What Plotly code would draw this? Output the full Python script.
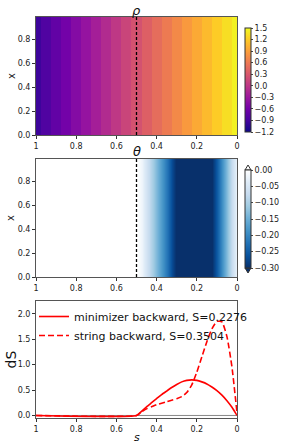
import plotly.graph_objects as go

# ---------------- data ----------------
s_rho = [1.0, 0.95, 0.9, 0.85, 0.8, 0.75, 0.7, 0.65, 0.6, 0.55, 0.5,
         0.45, 0.4, 0.35, 0.3, 0.25, 0.2, 0.15, 0.1, 0.05, 0.0]
rho_vals = [-0.95, -0.83, -0.71, -0.59, -0.47, -0.35, -0.23, -0.11, 0.01, 0.13, 0.25,
            0.37, 0.49, 0.61, 0.73, 0.85, 0.97, 1.09, 1.21, 1.33, 1.45]

s_theta = [1.0, 0.975, 0.95, 0.925, 0.9, 0.875, 0.85, 0.825, 0.8, 0.775, 0.75,
           0.725, 0.7, 0.675, 0.65, 0.625, 0.6, 0.575, 0.55, 0.525, 0.5,
           0.475, 0.45, 0.425, 0.4, 0.375, 0.35, 0.325, 0.3, 0.275, 0.25,
           0.225, 0.2, 0.175, 0.15, 0.125, 0.1, 0.075, 0.05, 0.025, 0.0]
theta_vals = [0.0] * 21 + [-0.02, -0.06, -0.10, -0.14, -0.18, -0.22, -0.27, -0.31, -0.34, -0.36,
                           -0.37, -0.37, -0.36, -0.33, -0.30, -0.25, -0.19, -0.13, -0.07, -0.02]

x_grid = [0.0, 0.25, 0.5, 0.75, 0.99]

s_line = [1.0, 0.5, 0.475, 0.45, 0.425, 0.4, 0.375, 0.35, 0.325, 0.3, 0.275, 0.25,
          0.225, 0.2, 0.175, 0.15, 0.125, 0.1, 0.075, 0.05, 0.025, 0.0]
ds_minimizer = [0.0, 0.0, 0.08, 0.17, 0.25, 0.33, 0.41, 0.48, 0.55, 0.61, 0.66, 0.69,
                0.70, 0.69, 0.66, 0.62, 0.56, 0.49, 0.40, 0.29, 0.16, 0.0]
ds_string = [0.0, 0.0, 0.07, 0.13, 0.17, 0.21, 0.24, 0.27, 0.30, 0.33, 0.37, 0.45,
             0.60, 0.85, 1.15, 1.45, 1.70, 1.85, 1.84, 1.55, 0.95, 0.05]

S_min = 0.2276
S_str = 0.3504
s_switch = 0.5

s_ticks = [1, 0.8, 0.6, 0.4, 0.2, 0]
s_ticktext = ["1", "0.8", "0.6", "0.4", "0.2", "0"]
rho_cb_ticks = [-1.2, -0.9, -0.6, -0.3, 0.0, 0.3, 0.6, 0.9, 1.2, 1.5]
theta_cb_ticks = [0.0, -0.05, -0.10, -0.15, -0.20, -0.25, -0.30]

# ---------------- layout helpers ----------------
W, H = 283, 448
def px_x(p):
    return p / W
def px_y(p):
    return 1 - p / H

X0, X1 = 36, 237
P1 = (17, 135)
P2 = (159, 277)
P3 = (301, 418)

blues_r = [[0.0, "#08306b"], [0.125, "#08519c"], [0.25, "#2171b5"], [0.375, "#4292c6"],
           [0.5, "#6baed6"], [0.625, "#9ecae1"], [0.75, "#c6dbef"], [0.875, "#deebf7"],
           [1.0, "#ffffff"]]

FONT = "DejaVu Sans"
tickfont = dict(family=FONT, size=8, color="#222")

fig = go.Figure()

z_rho = [rho_vals for _ in x_grid]
fig.add_trace(go.Heatmap(
    x=s_rho, y=x_grid, z=z_rho, colorscale="Plasma", zmin=-1.2, zmax=1.5,
    xaxis="x", yaxis="y",
    colorbar=dict(x=px_x(245), xanchor="left", y=px_y(80), yanchor="middle",
                  lenmode="pixels", len=104, thicknessmode="pixels", thickness=6,
                  outlinewidth=1, outlinecolor="#333", tickvals=rho_cb_ticks,
                  tickformat=".1f", ticks="outside", ticklen=2, tickfont=tickfont,
                  xpad=0, ypad=0)))

z_theta = [theta_vals for _ in x_grid]
fig.add_trace(go.Heatmap(
    x=s_theta, y=x_grid, z=z_theta, colorscale=blues_r, zmin=-0.3, zmax=0.0,
    zsmooth="best", xaxis="x2", yaxis="y2",
    colorbar=dict(x=px_x(245), xanchor="left", y=px_y(219), yanchor="middle",
                  lenmode="pixels", len=98, thicknessmode="pixels", thickness=6,
                  outlinewidth=1, outlinecolor="#333", tickvals=theta_cb_ticks,
                  tickformat=".2f", ticks="outside", ticklen=2, tickfont=tickfont,
                  xpad=0, ypad=0)))

fig.add_trace(go.Scatter(
    x=[1, 0], y=[0, 0], mode="lines", line=dict(color="#888", width=1),
    xaxis="x3", yaxis="y3", showlegend=False, hoverinfo="skip"))
fig.add_trace(go.Scatter(
    x=s_line, y=ds_minimizer, mode="lines", line=dict(color="red", width=1.6, shape="spline", smoothing=0.5),
    name=f"minimizer backward, S={S_min:.4f}", xaxis="x3", yaxis="y3"))
fig.add_trace(go.Scatter(
    x=s_line, y=ds_string, mode="lines",
    line=dict(color="red", width=1.6, dash="6px,3px", shape="spline", smoothing=0.5),
    name=f"string backward, S={S_str:.4f}", xaxis="x3", yaxis="y3"))

def xax(anchor, dom_y):
    return dict(domain=[px_x(X0), px_x(X1)], range=[1, 0], tickvals=s_ticks, ticktext=s_ticktext,
                ticks="outside", ticklen=3, tickcolor="#333", tickfont=tickfont,
                showline=True, linecolor="#555", linewidth=1, mirror=True,
                showgrid=False, zeroline=False, anchor=anchor, automargin=False)

def yax(anchor, top_bot, rng, tv, fmt):
    return dict(domain=[px_y(top_bot[1]), px_y(top_bot[0])], range=rng, tickvals=tv,
                tickformat=fmt, ticks="outside", ticklen=3, tickcolor="#333", tickfont=tickfont,
                showline=True, linecolor="#555", linewidth=1, mirror=True,
                showgrid=False, zeroline=False, anchor=anchor, automargin=False)

fig.update_layout(
    width=W, height=H, autosize=False,
    margin=dict(l=0, r=0, t=0, b=0, pad=0, autoexpand=False),
    paper_bgcolor="white", plot_bgcolor="white",
    xaxis=xax("y", P1), yaxis=yax("x", P1, [0, 0.99], [0, 0.2, 0.4, 0.6, 0.8], ".1f"),
    xaxis2=xax("y2", P2), yaxis2=yax("x2", P2, [0, 0.99], [0, 0.2, 0.4, 0.6, 0.8], ".1f"),
    xaxis3=xax("y3", P3), yaxis3=yax("x3", P3, [-0.05, 2.25], [0, 0.5, 1.0, 1.5, 2.0], ".1f"),
    legend=dict(x=px_x(34), y=px_y(302), xanchor="left", yanchor="top",
                bgcolor="rgba(0,0,0,0)", font=dict(family=FONT, size=11, color="#111"),
                itemwidth=30, tracegroupgap=0),
    font=dict(family=FONT),
)

shapes = []
for xr, yr in [("x", "y"), ("x2", "y2")]:
    shapes.append(dict(type="line", xref=xr, yref=yr + " domain", x0=s_switch, x1=s_switch,
                       y0=0, y1=1, line=dict(color="black", width=1.3, dash="3px,2px")))
# colorbar extension triangles for theta
cbx0, cbx1 = 245, 251
top_body, bot_body = 170, 268
shapes.append(dict(type="path", xref="paper", yref="paper",
                   path=f"M {px_x(cbx0)} {px_y(top_body)} L {px_x((cbx0+cbx1)/2)} {px_y(top_body-5)} L {px_x(cbx1)} {px_y(top_body)} Z",
                   fillcolor="#ffffff", line=dict(color="#333", width=1)))
shapes.append(dict(type="path", xref="paper", yref="paper",
                   path=f"M {px_x(cbx0)} {px_y(bot_body)} L {px_x((cbx0+cbx1)/2)} {px_y(bot_body+5)} L {px_x(cbx1)} {px_y(bot_body)} Z",
                   fillcolor="#08306b", line=dict(color="#333", width=1)))
fig.update_layout(shapes=shapes)

def label(text, xp, yp, size, angle=0):
    return dict(text=text, x=px_x(xp), y=px_y(yp), xref="paper", yref="paper",
                xanchor="center", yanchor="middle", showarrow=False, textangle=angle,
                font=dict(family=FONT, size=size, color="#111"))

ann = [
    label("<i>ρ</i>", (X0 + X1) / 2, 11, 13),
    label("<i>θ</i>", (X0 + X1) / 2, 151, 13),
    label("x", 11, (P1[0] + P1[1]) / 2, 10, -90),
    label("x", 11, (P2[0] + P2[1]) / 2, 10, -90),
    label("dS", 10, (P3[0] + P3[1]) / 2, 14, -90),
    label("<i>s</i>", (X0 + X1) / 2, 437, 11),
]
fig.update_layout(annotations=ann)

fig.write_html("out.html", config={"displayModeBar": False},
               post_script="document.body.style.margin='0';document.body.style.padding='0';")
